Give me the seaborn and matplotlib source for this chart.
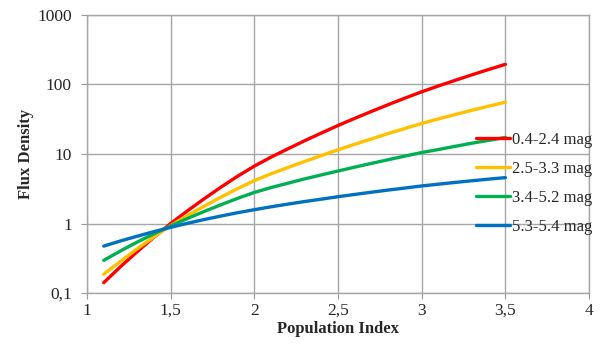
import pandas as pd
import matplotlib
matplotlib.use("Agg")
import matplotlib.pyplot as plt
import seaborn as sns

# population index values where the curves were read
pop_index = [1.1, 1.2, 1.3, 1.4, 1.5, 1.6, 1.7, 1.8, 1.9, 2.0, 2.1, 2.2, 2.3,
             2.4, 2.5, 2.6, 2.7, 2.8, 2.9, 3.0, 3.1, 3.2, 3.3, 3.4, 3.5]

# flux density per magnitude band
flux_04_24 = [0.141, 0.239, 0.394, 0.635, 1.0, 1.52, 2.27, 3.33, 4.79, 6.70,
              9.02, 11.86, 15.5, 20.0, 25.7, 32.6, 41.0, 51.3, 63.7, 78.5,
              95.3, 114.8, 137.7, 164.4, 195]
flux_25_33 = [0.186, 0.286, 0.433, 0.641, 0.933, 1.30, 1.77, 2.39, 3.18, 4.14,
              5.19, 6.38, 7.80, 9.48, 11.5, 13.8, 16.5, 19.7, 23.3, 27.5,
              32.0, 37.0, 42.6, 48.8, 55.6]
flux_34_52 = [0.295, 0.403, 0.540, 0.711, 0.923, 1.18, 1.49, 1.86, 2.30, 2.80,
              3.29, 3.80, 4.38, 5.00, 5.69, 6.47, 7.33, 8.28, 9.33, 10.5,
              11.6, 12.9, 14.3, 15.7, 17.3]
flux_53_54 = [0.473, 0.561, 0.656, 0.764, 0.881, 1.007, 1.14, 1.28, 1.43, 1.58,
              1.74, 1.90, 2.07, 2.24, 2.43, 2.62, 2.82, 3.03, 3.24, 3.47,
              3.68, 3.90, 4.12, 4.35, 4.57]

bands = ["0.4-2.4 mag", "2.5-3.3 mag", "3.4-5.2 mag", "5.3-5.4 mag"]
colors = ["#ff0000", "#ffc000", "#00b050", "#0070c0"]

x_ticks = [1, 1.5, 2, 2.5, 3, 3.5, 4]
x_tick_labels = ["1", "1,5", "2", "2,5", "3", "3,5", "4"]
y_ticks = [0.1, 1, 10, 100, 1000]
y_tick_labels = ["0,1", "1", "10", "100", "1000"]

# long-form table for seaborn
rows = []
for band, values in zip(bands, [flux_04_24, flux_25_33, flux_34_52, flux_53_54]):
    for x, y in zip(pop_index, values):
        rows.append({"Population Index": x, "Flux Density": y, "Band": band})
df = pd.DataFrame(rows)

sns.set_style("white")
plt.rcParams["font.family"] = ["Liberation Serif", "DejaVu Serif"]

fig = plt.figure(figsize=(6.06, 3.47), dpi=100)
ax = fig.add_axes([0.1436, 0.1556, 0.8284, 0.8012])

sns.lineplot(data=df, x="Population Index", y="Flux Density", hue="Band",
             palette=colors, linewidth=2.4, ax=ax)
for line in ax.get_lines():
    line.set_solid_capstyle("round")

ax.set_yscale("log")
ax.set_xlim(1, 4)
ax.set_ylim(0.1, 1000)
ax.set_xticks(x_ticks)
ax.set_xticklabels(x_tick_labels)
ax.set_yticks(y_ticks)
ax.set_yticklabels(y_tick_labels)
ax.minorticks_off()
ax.tick_params(axis="both", labelsize=12.5, length=4, color="#9a9a9a",
               direction="out", bottom=True, left=True)
ax.tick_params(axis="y", pad=7)
ax.tick_params(axis="x", pad=3)

ax.grid(True, color="#a6a6a6", linewidth=1)
for spine in ax.spines.values():
    spine.set_color("#a6a6a6")
    spine.set_linewidth(1)

ax.set_xlabel("Population Index", fontsize=12, fontweight="bold", labelpad=1.5)
ax.set_ylabel("Flux Density", fontsize=12, fontweight="bold", labelpad=2)

sns.move_legend(ax, "upper left", bbox_to_anchor=(0.774, 0.64),
                bbox_transform=fig.transFigure, frameon=False, title=None,
                fontsize=12, handlelength=2.05, handletextpad=0.15,
                labelspacing=0.78, borderaxespad=0)
for line in ax.get_legend().get_lines():
    line.set_linewidth(2.4)

fig.savefig("out.png", dpi=100)
